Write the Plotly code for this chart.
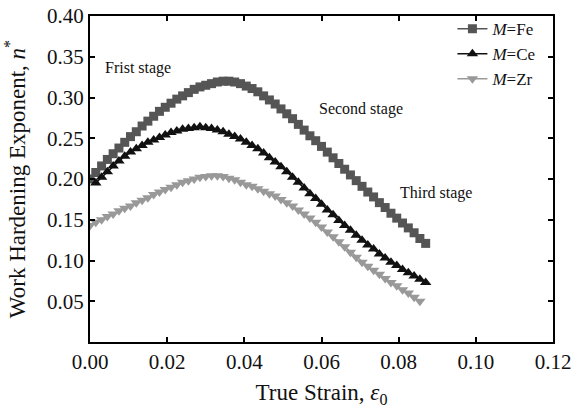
import plotly.graph_objects as go

strain = [0.0000, 0.0015, 0.0030, 0.0045, 0.0060, 0.0075, 0.0090, 0.0105, 0.0120, 0.0135,
          0.0150, 0.0165, 0.0180, 0.0195, 0.0210, 0.0225, 0.0240, 0.0255, 0.0270, 0.0285,
          0.0300, 0.0315, 0.0330, 0.0345, 0.0360, 0.0375, 0.0390, 0.0405, 0.0420, 0.0435,
          0.0450, 0.0465, 0.0480, 0.0495, 0.0510, 0.0525, 0.0540, 0.0555, 0.0570, 0.0585,
          0.0600, 0.0615, 0.0630, 0.0645, 0.0660, 0.0675, 0.0690, 0.0705, 0.0720, 0.0735,
          0.0750, 0.0765, 0.0780, 0.0795, 0.0810, 0.0825, 0.0840, 0.0855, 0.0870]

fe_strain = strain
fe_n = [0.200, 0.208, 0.216, 0.224, 0.231, 0.238, 0.245, 0.252, 0.258, 0.265,
        0.271, 0.277, 0.283, 0.288, 0.293, 0.298, 0.302, 0.306, 0.310, 0.313,
        0.315, 0.317, 0.319, 0.320, 0.320, 0.319, 0.317, 0.314, 0.311, 0.307,
        0.302, 0.297, 0.292, 0.286, 0.280, 0.274, 0.267, 0.260, 0.253, 0.247,
        0.240, 0.233, 0.226, 0.219, 0.212, 0.205, 0.198, 0.191, 0.184, 0.178,
        0.171, 0.165, 0.158, 0.152, 0.146, 0.140, 0.134, 0.127, 0.121]

ce_strain = strain[1:]
ce_n = [0.195, 0.202, 0.209, 0.216, 0.222, 0.228, 0.233, 0.237, 0.241,
        0.245, 0.248, 0.251, 0.254, 0.257, 0.259, 0.261, 0.262, 0.263, 0.264,
        0.263, 0.262, 0.260, 0.258, 0.255, 0.252, 0.249, 0.245, 0.241, 0.237,
        0.232, 0.226, 0.221, 0.215, 0.209, 0.202, 0.196, 0.189, 0.182, 0.176,
        0.169, 0.162, 0.156, 0.149, 0.143, 0.137, 0.131, 0.125, 0.119, 0.114,
        0.108, 0.103, 0.098, 0.094, 0.089, 0.085, 0.081, 0.077, 0.073]

zr_strain = strain[:58]
zr_n = [0.143, 0.147, 0.150, 0.154, 0.157, 0.161, 0.164, 0.167, 0.171, 0.174,
        0.177, 0.181, 0.184, 0.187, 0.190, 0.193, 0.196, 0.198, 0.200, 0.202,
        0.203, 0.204, 0.204, 0.203, 0.201, 0.199, 0.196, 0.193, 0.191, 0.188,
        0.185, 0.182, 0.179, 0.175, 0.171, 0.167, 0.162, 0.157, 0.152, 0.147,
        0.141, 0.135, 0.129, 0.123, 0.117, 0.110, 0.104, 0.098, 0.093, 0.088,
        0.083, 0.078, 0.073, 0.069, 0.064, 0.060, 0.055, 0.050]

x_ticks = [0.00, 0.02, 0.04, 0.06, 0.08, 0.10, 0.12]
x_tick_labels = ["0.00", "0.02", "0.04", "0.06", "0.08", "0.10", "0.12"]
y_ticks = [0.05, 0.10, 0.15, 0.20, 0.25, 0.30, 0.35, 0.40]
y_tick_labels = ["0.05", "0.10", "0.15", "0.20", "0.25", "0.30", "0.35", "0.40"]

stage_labels = ["Frist stage", "Second stage", "Third stage"]
stage_x = [0.0125, 0.0702, 0.0898]
stage_y = [0.336, 0.286, 0.183]

FONT = "Liberation Serif, Times New Roman, serif"
FE_C = "#555555"
CE_C = "#111111"
ZR_C = "#999999"

fig = go.Figure()
fig.add_trace(go.Scatter(x=fe_strain, y=fe_n, mode="lines+markers", name="<i>M</i>=Fe",
                         line=dict(color=FE_C, width=1.5),
                         marker=dict(symbol="square", size=9, color=FE_C)))
fig.add_trace(go.Scatter(x=ce_strain, y=ce_n, mode="lines+markers", name="<i>M</i>=Ce",
                         line=dict(color=CE_C, width=1.5),
                         marker=dict(symbol="triangle-up", size=10, color=CE_C)))
fig.add_trace(go.Scatter(x=zr_strain, y=zr_n, mode="lines+markers", name="<i>M</i>=Zr",
                         line=dict(color=ZR_C, width=1.5),
                         marker=dict(symbol="triangle-down", size=10, color=ZR_C)))

for txt, xx, yy in zip(stage_labels, stage_x, stage_y):
    fig.add_annotation(x=xx, y=yy, text=txt, showarrow=False, xanchor="center", yanchor="middle",
                       font=dict(family=FONT, size=16, color="#111111"))

axis_common = dict(showline=True, linecolor="black", linewidth=2, mirror="ticks",
                   ticks="inside", ticklen=5, tickwidth=1.5, tickcolor="black",
                   showgrid=False, zeroline=False, automargin=False,
                   tickfont=dict(family=FONT, size=21, color="#111111"))

fig.update_xaxes(range=[0, 0.12], tickvals=x_ticks, ticktext=x_tick_labels,
                 title=dict(text="True Strain, <i>ε</i><sub>0</sub>",
                            font=dict(family=FONT, size=23, color="#111111")),
                 **axis_common)
fig.update_yaxes(range=[0, 0.40], tickvals=y_ticks, ticktext=y_tick_labels,
                 title=dict(text="Work Hardening Exponent, <i>n</i><sup>*</sup>",
                            font=dict(family=FONT, size=23, color="#111111")),
                 **axis_common)

fig.update_layout(
    width=583, height=408,
    margin=dict(l=90, r=30, t=15, b=66),
    plot_bgcolor="white", paper_bgcolor="white",
    showlegend=True,
    legend=dict(x=0.975, y=1.012, xanchor="right", yanchor="top",
                bgcolor="rgba(0,0,0,0)", borderwidth=0,
                font=dict(family=FONT, size=17, color="#111111"),
                tracegroupgap=0, itemwidth=30),
)

fig.write_html("out.html")
